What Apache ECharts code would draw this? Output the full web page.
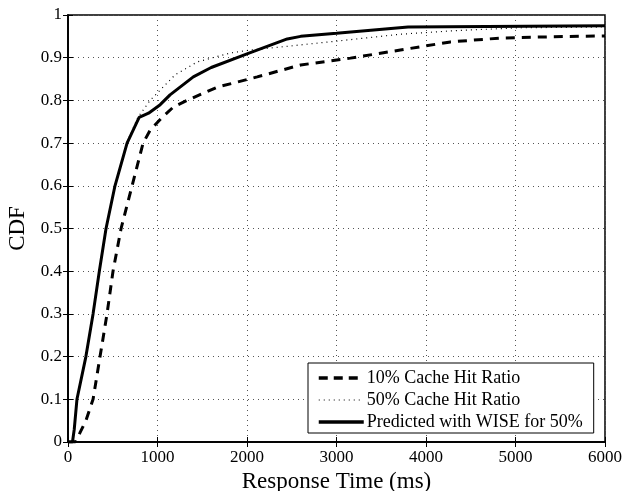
<!DOCTYPE html>
<html>
<head>
<meta charset="utf-8">
<script src="https://cdn.jsdelivr.net/npm/echarts@6/dist/echarts.min.js"></script>
<style>html,body{margin:0;padding:0;background:#fff;}#c{width:625px;height:491px;}</style>
</head>
<body>
<div id="c"></div>
<script>
var xTicks = [0, 1000, 2000, 3000, 4000, 5000, 6000];
var yTicks = [0, 0.1, 0.2, 0.3, 0.4, 0.5, 0.6, 0.7, 0.8, 0.9, 1];
var seriesNames = ['10% Cache Hit Ratio', '50% Cache Hit Ratio', 'Predicted with WISE for 50%'];

var cache10 = [[0,0],[80,0],[130,0.02],[200,0.05],[280,0.1],[358,0.2],[436,0.3],[503,0.4],[593,0.5],[716,0.6],[839,0.7],[917,0.73],[1050,0.76],[1180,0.785],[1331,0.8],[1667,0.831],[2114,0.855],[2600,0.883],[3155,0.899],[3714,0.918],[4273,0.937],[4832,0.946],[5400,0.949],[6000,0.951]];
var cache50 = [[0,0],[50,0],[100,0.1],[200,0.2],[280,0.3],[350,0.4],[425,0.5],[525,0.6],[655,0.7],[780,0.76],[917,0.8],[1029,0.824],[1197,0.86],[1442,0.89],[1812,0.911],[2036,0.918],[2371,0.925],[3009,0.939],[3714,0.955],[4300,0.963],[5022,0.97],[6000,0.972]];
var wise50 = [[0,0],[50,0],[70,0.03],[100,0.1],[200,0.2],[280,0.3],[350,0.4],[425,0.5],[525,0.6],[660,0.7],[795,0.76],[900,0.77],[1030,0.79],[1140,0.813],[1400,0.855],[1600,0.877],[2000,0.909],[2450,0.944],[2600,0.95],[3000,0.957],[3800,0.972],[6000,0.975]];

var FONT = '"Liberation Serif", "DejaVu Serif", serif';
var chart = echarts.init(document.getElementById('c'));
var gridLine = {show: true, lineStyle: {color: '#555', type: [1, 4], width: 1}};
var legendLines = [
  {width: 3.5, type: [9, 6], color: '#000'},
  {width: 1.2, type: [1, 4], color: '#000'},
  {width: 3.5, type: 'solid', color: '#000'}
];
chart.setOption({
  animation: false,
  backgroundColor: '#fff',
  grid: {left: 68, top: 15, right: 20, bottom: 49, show: true, borderColor: '#000', borderWidth: 1.5,
         containLabel: false, outerBoundsMode: 'none'},
  legend: {
    orient: 'vertical', left: 308, top: 363, width: 285,
    itemWidth: 45, itemHeight: 12, itemGap: 4,
    padding: [6, 11, 2, 9],
    backgroundColor: '#fff', borderColor: '#000', borderWidth: 1,
    itemStyle: {color: 'transparent', borderColor: 'transparent', borderWidth: 0},
    textStyle: {fontFamily: FONT, fontSize: 18, color: '#000', padding: [0, 0, 0, -2]},
    data: seriesNames.map(function (n, i) { return {name: n, lineStyle: legendLines[i]}; })
  },
  xAxis: [{
    type: 'value', min: 0, max: 6000, interval: 1000,
    name: 'Response Time (ms)', nameLocation: 'middle', nameGap: 25,
    nameTextStyle: {fontFamily: FONT, fontSize: 23, color: '#000'},
    axisLine: {show: true, lineStyle: {color: '#000', width: 1.5}},
    axisTick: {show: true, inside: true, length: 5, lineStyle: {color: '#000'}},
    axisLabel: {fontFamily: FONT, fontSize: 17, color: '#000', margin: 7,
      formatter: function (v) { return String(v); }},
    splitLine: gridLine
  }, {
    type: 'value', position: 'top', min: 0, max: 6000, interval: 1000,
    axisLine: {show: true, lineStyle: {color: '#000', width: 1.5}},
    axisTick: {show: true, inside: true, length: 5, lineStyle: {color: '#000'}},
    axisLabel: {show: false}, splitLine: {show: false}
  }],
  yAxis: [{
    type: 'value', min: 0, max: 1, interval: 0.1,
    name: 'CDF', nameLocation: 'middle', nameGap: 36, nameRotate: 90,
    nameTextStyle: {fontFamily: FONT, fontSize: 23, color: '#000'},
    axisLine: {show: true, lineStyle: {color: '#000', width: 1.5}},
    axisTick: {show: true, inside: true, length: 5, lineStyle: {color: '#000'}},
    axisLabel: {fontFamily: FONT, fontSize: 17, color: '#000', margin: 6,
      formatter: function (v) { return String(Math.round(v * 10) / 10); }},
    splitLine: gridLine
  }, {
    type: 'value', position: 'right', min: 0, max: 1, interval: 0.1,
    axisLine: {show: true, lineStyle: {color: '#000', width: 1.5}},
    axisTick: {show: true, inside: true, length: 5, lineStyle: {color: '#000'}},
    axisLabel: {show: false}, splitLine: {show: false}
  }],
  series: [
    {name: seriesNames[0], type: 'line', data: cache10, showSymbol: false, symbol: 'none',
     itemStyle: {color: '#000'}, lineStyle: {color: '#000', width: 3, type: [9, 7]}},
    {name: seriesNames[1], type: 'line', data: cache50, showSymbol: false, symbol: 'none',
     itemStyle: {color: '#000'}, lineStyle: {color: '#000', width: 1.2, type: [1, 4]}},
    {name: seriesNames[2], type: 'line', data: wise50, showSymbol: false, symbol: 'none',
     itemStyle: {color: '#000'}, lineStyle: {color: '#000', width: 3, type: 'solid'}}
  ]
});
</script>
</body>
</html>
